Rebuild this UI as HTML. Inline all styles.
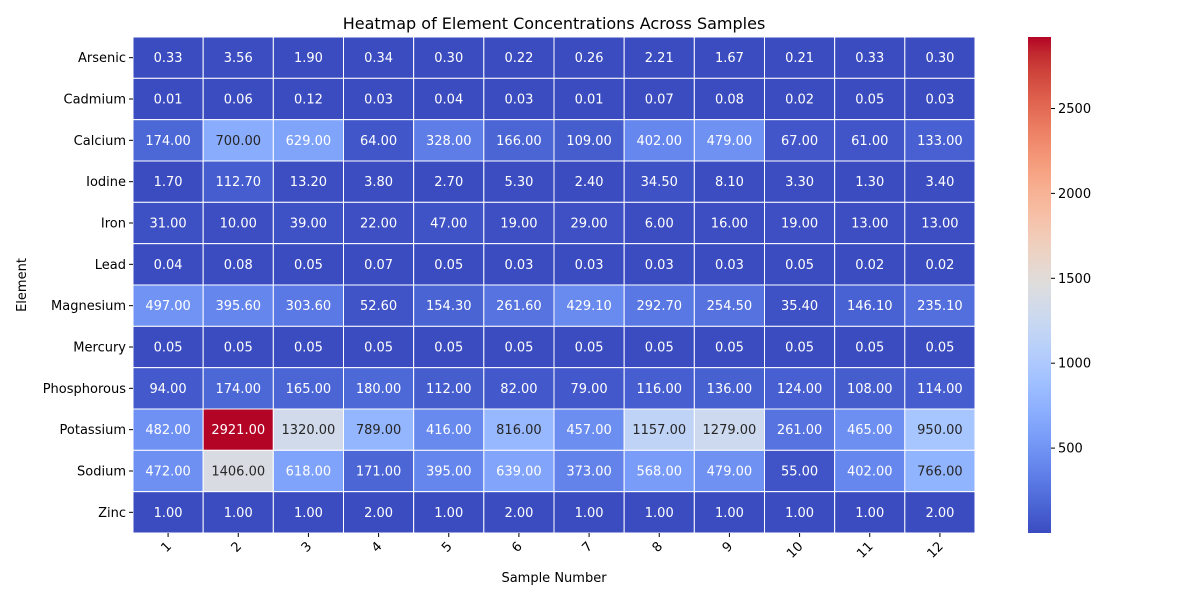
<!DOCTYPE html>
<html><head><meta charset="utf-8"><style>
body{margin:0;background:#fff;font-family:"Liberation Sans","DejaVu Sans",sans-serif}
svg text{font-family:"DejaVu Sans","Liberation Sans",sans-serif}
</style></head><body>
<svg id="chart" width="1200" height="600" xmlns="http://www.w3.org/2000/svg">
<text x="554" y="29" text-anchor="middle" font-size="16">Heatmap of Element Concentrations Across Samples</text>
<text x="554" y="582" text-anchor="middle" font-size="13">Sample Number</text>
<text x="26" y="285" text-anchor="middle" font-size="13" transform="rotate(-90 26 285)">Element</text>
<g id="cells"></g><g id="cbar"></g>
</svg>
<script>
const elements=["Arsenic","Cadmium","Calcium","Iodine","Iron","Lead","Magnesium","Mercury","Phosphorous","Potassium","Sodium","Zinc"];
const samples=["1","2","3","4","5","6","7","8","9","10","11","12"];
const arsenic=[0.33,3.56,1.90,0.34,0.30,0.22,0.26,2.21,1.67,0.21,0.33,0.30];
const cadmium=[0.01,0.06,0.12,0.03,0.04,0.03,0.01,0.07,0.08,0.02,0.05,0.03];
const calcium=[174,700,629,64,328,166,109,402,479,67,61,133];
const iodine=[1.7,112.7,13.2,3.8,2.7,5.3,2.4,34.5,8.1,3.3,1.3,3.4];
const iron=[31,10,39,22,47,19,29,6,16,19,13,13];
const lead=[0.04,0.08,0.05,0.07,0.05,0.03,0.03,0.03,0.03,0.05,0.02,0.02];
const magnesium=[497,395.6,303.6,52.6,154.3,261.6,429.1,292.7,254.5,35.4,146.1,235.1];
const mercury=[0.05,0.05,0.05,0.05,0.05,0.05,0.05,0.05,0.05,0.05,0.05,0.05];
const phosphorous=[94,174,165,180,112,82,79,116,136,124,108,114];
const potassium=[482,2921,1320,789,416,816,457,1157,1279,261,465,950];
const sodium=[472,1406,618,171,395,639,373,568,479,55,402,766];
const zinc=[1,1,1,2,1,2,1,1,1,1,1,2];
const matrix=[arsenic,cadmium,calcium,iodine,iron,lead,magnesium,mercury,phosphorous,potassium,sodium,zinc];
const cbarTicks=[500,1000,1500,2000,2500];

const NS="http://www.w3.org/2000/svg";
const X0=133,X1=975,Y0=37,Y1=533;
const cw=(X1-X0)/samples.length, ch=(Y1-Y0)/elements.length;
const all=matrix.flat(); const vmin=Math.min(...all), vmax=Math.max(...all);
const cm=[[59,76,192],[68,90,204],[77,104,215],[87,117,225],[98,130,234],[108,142,241],[119,154,247],[130,165,251],[141,176,254],[152,185,255],[163,194,255],[174,201,253],[184,208,249],[194,213,244],[204,217,238],[213,219,230],[221,221,221],[229,216,209],[236,211,197],[241,204,185],[245,196,173],[247,187,160],[247,177,148],[247,166,135],[244,154,123],[241,141,111],[236,127,99],[229,112,88],[222,96,77],[213,80,66],[203,62,56],[192,40,47],[180,4,38]];
function cmap(t){t=Math.max(0,Math.min(1,t));const p=t*32,i=Math.min(31,Math.floor(p)),f=p-i;return cm[i].map((c,k)=>Math.round(c+(cm[i+1][k]-c)*f));}
function lum(c){const l=c.map(v=>{v/=255;return v<=0.03928?v/12.92:Math.pow((v+0.055)/1.055,2.4)});return 0.2126*l[0]+0.7152*l[1]+0.0722*l[2];}
const LTH=lum(cmap(0.229));
function mk(tag,a,p){const e=document.createElementNS(NS,tag);for(const k in a)e.setAttribute(k,a[k]);p.appendChild(e);return e;}
const g=document.getElementById('cells');
matrix.forEach((row,r)=>{
  row.forEach((v,c)=>{
    const col=cmap((v-vmin)/(vmax-vmin));
    const rect=mk('rect',{x:X0+c*cw,y:Y0+r*ch,width:cw,height:ch,fill:`rgb(${col})`,stroke:'#fff','stroke-width':1},g);
    
    
    const t=mk('text',{x:X0+(c+0.5)*cw,y:Y0+(r+0.5)*ch+4.5,'text-anchor':'middle','font-size':13,fill:lum(col)>LTH?'#262626':'#fff'},g);
    t.textContent=v.toFixed(2);
    
    
  });
  const y=Y0+(r+0.5)*ch;
  mk('line',{x1:X0-4,x2:X0,y1:y,y2:y,stroke:'#000'},g);
  const lt=mk('text',{x:X0-7,y:y+4.5,'text-anchor':'end','font-size':13},g);
  lt.textContent=elements[r];
  
  
});
samples.forEach((s,c)=>{
  const x=X0+(c+0.5)*cw;
  mk('line',{x1:x,x2:x,y1:Y1,y2:Y1+4,stroke:'#000'},g);
  const t=mk('text',{x:x+4,y:Y1+14,'text-anchor':'end','font-size':13,transform:`rotate(-45 ${x+4} ${Y1+14})`},g);
  t.textContent=s;
  
  
});
const cb=document.getElementById('cbar');
const CX=1028,CW=23;
const defs=mk('defs',{},cb);
const lg=mk('linearGradient',{id:'cg',x1:0,y1:1,x2:0,y2:0},defs);
cm.forEach((c,i)=>mk('stop',{offset:i/32,'stop-color':`rgb(${c})`},lg));
const cr=mk('rect',{x:CX,y:Y0,width:CW,height:Y1-Y0,fill:'url(#cg)'},cb);


cbarTicks.forEach(v=>{
  const y=Y1-(v-vmin)/(vmax-vmin)*(Y1-Y0);
  mk('line',{x1:CX+CW,x2:CX+CW+4,y1:y,y2:y,stroke:'#000'},cb);
  const t=mk('text',{x:CX+CW+7,y:y+4.5,'font-size':13},cb);
  t.textContent=v;
  
  
});
</script>
</body></html>
